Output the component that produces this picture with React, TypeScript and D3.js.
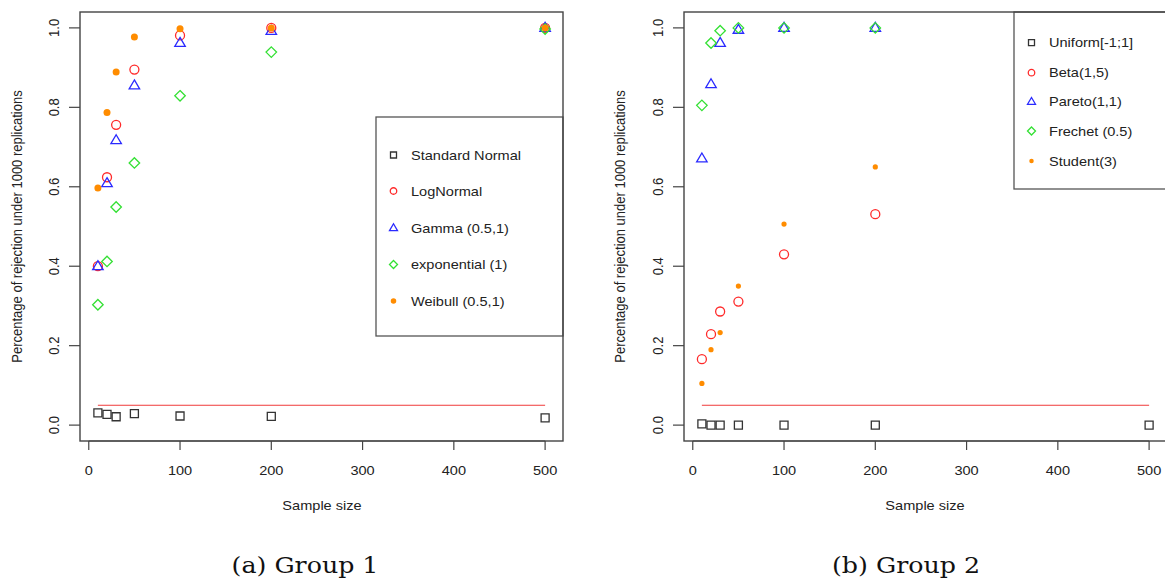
import React from "react";
import * as d3 from "d3";

// sample sizes on the x axis
const sampleSizes = [10, 20, 30, 50, 100, 200, 500];
const xTicks = [0, 100, 200, 300, 400, 500];
const yTicks = [0, 0.2, 0.4, 0.6, 0.8, 1.0];
const alphaLevel = 0.05;

// Group 1
const group1Labels = ["Standard Normal", "LogNormal", "Gamma (0.5,1)", "exponential (1)", "Weibull (0.5,1)"];
const stdNormal = [0.031, 0.027, 0.021, 0.029, 0.023, 0.022, 0.018];
const logNormal = [0.4, 0.624, 0.756, 0.895, 0.981, 1.0, 1.0];
const gammaDist = [0.4, 0.609, 0.717, 0.855, 0.962, 0.992, 1.0];
const exponential = [0.303, 0.412, 0.549, 0.66, 0.829, 0.939, 0.997];
const weibull = [0.597, 0.787, 0.889, 0.977, 0.998, 1.0, 1.0];

// Group 2 (points at n=500 for Beta / Student are hidden under the legend)
const group2Labels = ["Uniform[-1;1]", "Beta(1,5)", "Pareto(1,1)", "Frechet (0.5)", "Student(3)"];
const uniform = [0.003, 0, 0, 0, 0, 0, 0];
const betaDist = [0.166, 0.229, 0.286, 0.311, 0.43, 0.531, null];
const pareto = [0.671, 0.858, 0.962, 0.995, 1.0, 1.0, 1.0];
const frechet = [0.805, 0.962, 0.993, 1.0, 1.0, 1.0, 1.0];
const student = [0.105, 0.19, 0.233, 0.35, 0.506, 0.65, null];

const shapes = ["square", "circle", "triangle", "diamond", "dot"];
const colors = ["#333333", "#ff2a2a", "#2a2aff", "#33e033", "#ff8c00"];

const FONT = "'Liberation Sans', Arial, sans-serif";
const SX = 1.12; // the picture is a little stretched horizontally

function symbolPath(shape: string, s: number) {
  const p = d3.path();
  if (shape === "square") {
    p.rect(-s / 2, -s / 2, s, s);
  } else if (shape === "circle" || shape === "dot") {
    p.arc(0, 0, s / 2, 0, Math.PI * 2);
  } else if (shape === "triangle") {
    const h = s * 0.85;
    p.moveTo(0, -h * 0.62);
    p.lineTo(s / 2, h * 0.38);
    p.lineTo(-s / 2, h * 0.38);
    p.closePath();
  } else if (shape === "diamond") {
    p.moveTo(0, -s / 2);
    p.lineTo(s / 2, 0);
    p.lineTo(0, s / 2);
    p.lineTo(-s / 2, 0);
    p.closePath();
  }
  return p.toString();
}

const plotSize: Record<string, number> = { square: 8, circle: 9, triangle: 10.5, diamond: 10.5 };
const legendSize: Record<string, number> = { square: 6, circle: 6.5, triangle: 8, diamond: 8 };

function Mark({ shape, color, x, y, legend, dotSize }: any) {
  if (shape === "dot") {
    return <path d={symbolPath("dot", dotSize)} transform={`translate(${x},${y})`} fill={color} stroke="none" />;
  }
  const s = legend ? legendSize[shape] : plotSize[shape];
  return (
    <path
      d={symbolPath(shape, s)}
      transform={`translate(${x},${y})`}
      fill="none"
      stroke={color}
      strokeWidth={1.3}
    />
  );
}

function SText({ x, y, children, anchor = "middle", rotate = false, size = 13, fill = "#222" }: any) {
  const t = `translate(${x},${y}) scale(${SX},1)` + (rotate ? " rotate(-90)" : "");
  return (
    <text transform={t} textAnchor={anchor} fontFamily={FONT} fontSize={size} fill={fill}>
      {children}
    </text>
  );
}

function Panel({ left, series, labels, legendBox, legendRows, dotSize, legendDot, ytickX, ytitleX, xtitleX, caption }: any) {
  const top = 12;
  const bottom = 441;
  const width = 483;
  const x = d3.scaleLinear().domain([-9.6, 519.6]).range([left, left + width]);
  const y = d3.scaleLinear().domain([-0.04, 1.04]).range([bottom, top]);

  return (
    <g>
      {/* reference line at 5% */}
      <line x1={x(sampleSizes[0])} x2={x(sampleSizes[sampleSizes.length - 1])} y1={y(alphaLevel)} y2={y(alphaLevel)} stroke="#f03a3a" strokeWidth={1} />

      {series.map((vals: (number | null)[], si: number) =>
        vals.map((v, i) =>
          v == null ? null : (
            <Mark key={si + "-" + i} shape={shapes[si]} color={colors[si]} x={x(sampleSizes[i])} y={y(v)} dotSize={dotSize} />
          )
        )
      )}

      {/* legend */}
      <rect x={legendBox[0]} y={legendBox[1]} width={legendBox[2]} height={legendBox[3]} fill="#fff" stroke="#555" strokeWidth={1.3} />
      {labels.map((lab: string, i: number) => (
        <g key={lab}>
          <Mark shape={shapes[i]} color={colors[i]} x={legendBox[0] + 17.5} y={legendRows[i]} legend dotSize={legendDot} />
          <SText x={legendBox[0] + 35} y={legendRows[i] + 4.6} anchor="start">{lab}</SText>
        </g>
      ))}

      {/* box */}
      <rect x={left} y={top} width={width} height={bottom - top} fill="none" stroke="#444" strokeWidth={1.4} />

      {/* x axis */}
      <line x1={x(xTicks[0])} x2={x(xTicks[xTicks.length - 1])} y1={bottom} y2={bottom} stroke="#444" strokeWidth={1.2} />
      {xTicks.map((t) => (
        <g key={"x" + t}>
          <line x1={x(t)} x2={x(t)} y1={bottom} y2={bottom + 9} stroke="#444" strokeWidth={1.2} />
          <SText x={x(t)} y={475}>{String(t)}</SText>
        </g>
      ))}

      {/* y axis */}
      {yTicks.map((t) => (
        <g key={"y" + t}>
          <line x1={left} x2={left - 11} y1={y(t)} y2={y(t)} stroke="#444" strokeWidth={1.2} />
          <SText x={ytickX} y={y(t)} rotate>{d3.format(".1f")(t)}</SText>
        </g>
      ))}

      <SText x={xtitleX} y={510}>Sample size</SText>
      <SText x={ytitleX} y={(top + bottom) / 2} rotate>Percentage of rejection under 1000 replications</SText>

      <text
        transform={`translate(${caption[1]},573) scale(1.1,1)`}
        textAnchor="middle"
        fontFamily="'DejaVu Serif', serif"
        fontSize={23}
        fill="#111"
      >
        {caption[0]}
      </text>
    </g>
  );
}

export default function App() {
  return (
    <svg width={1165} height={579} style={{ position: "absolute", left: 0, top: 0, background: "#fff" }}>
      <Panel
        left={80}
        series={[stdNormal, logNormal, gammaDist, exponential, weibull]}
        labels={group1Labels}
        legendBox={[376, 117, 187, 219]}
        legendRows={[155, 191, 228, 264.5, 301]}
        dotSize={7}
        legendDot={5.5}
        ytickX={59}
        ytitleX={22}
        xtitleX={322}
        caption={["(a) Group 1", 305]}
      />
      <Panel
        left={684}
        series={[uniform, betaDist, pareto, frechet, student]}
        labels={group2Labels}
        legendBox={[1014, 12, 170, 177]}
        legendRows={[42.7, 72.7, 101.7, 131, 161]}
        dotSize={5.2}
        legendDot={4.5}
        ytickX={663}
        ytitleX={625}
        xtitleX={925}
        caption={["(b) Group 2", 906]}
      />
    </svg>
  );
}
